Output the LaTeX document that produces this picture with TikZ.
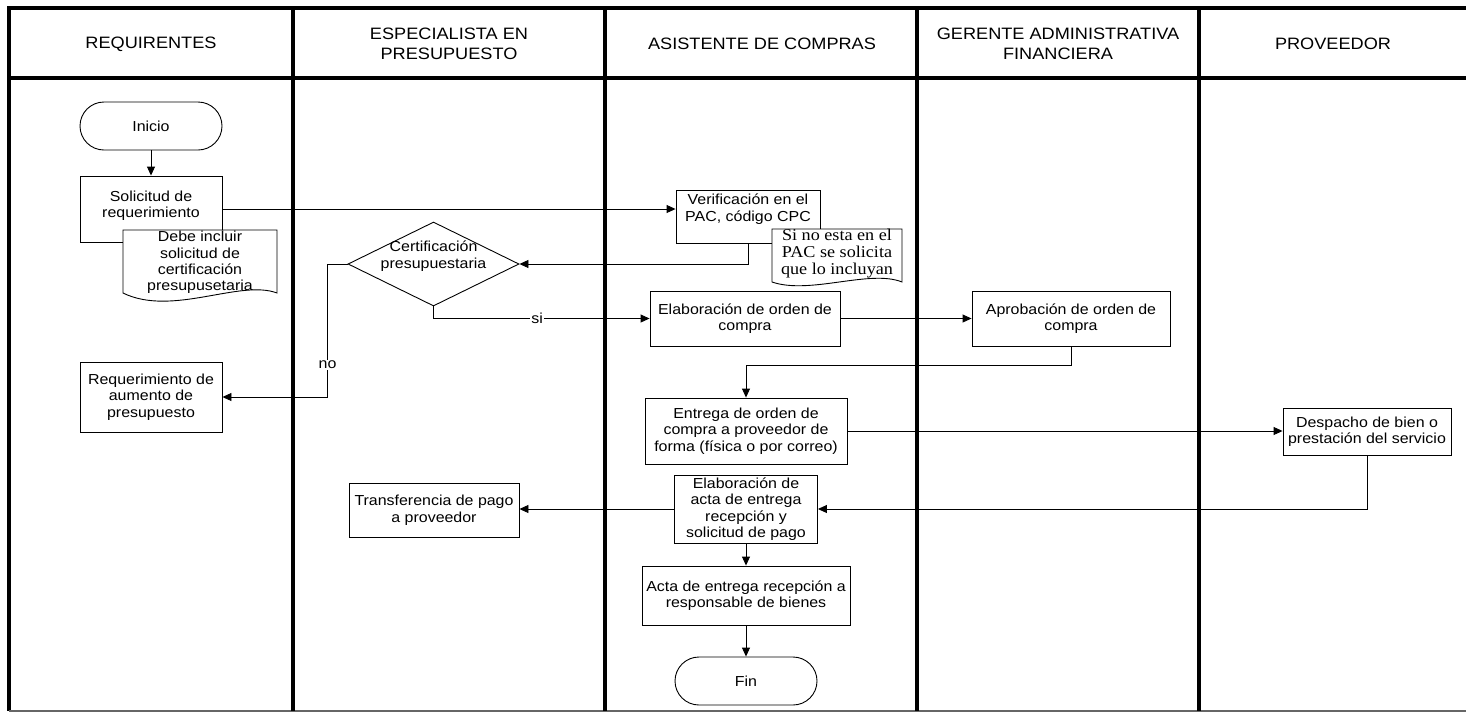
\documentclass[tikz,border=0pt]{standalone}
\usepackage{fontspec}
\setmainfont{Liberation Sans}[FakeStretch=1.1]
\newfontfamily\notefont{Liberation Serif}[FakeStretch=1.1]
\usetikzlibrary{arrows.meta,shapes.geometric,calc}

\begin{document}
\begin{tikzpicture}[x=1pt,y=-1pt,
  every node/.style={inner sep=0pt},
  frame/.style={line width=3.5pt},
  lanesep/.style={line width=4pt},
  head/.style={align=center,font=\fontsize{16.5}{19.5}\selectfont},
  txt/.style={align=center,font=\fontsize{14.5}{16.5}\selectfont},
  box/.style={draw,line width=0.9pt,fill=white},
  term/.style={box,rounded corners=24pt,minimum width=142,minimum height=48,font=\fontsize{14.5}{16.5}\selectfont},
  decision/.style={draw,line width=0.9pt,fill=white,diamond,minimum width=171,minimum height=84},
  doc/.style={draw,line width=0.9pt,fill=white},
  conn/.style={draw,line width=0.9pt,-{Triangle[length=9pt,width=8pt]}},
  lbl/.style={fill=white,inner sep=1pt,font=\fontsize{14.5}{16.5}\selectfont}
]
\useasboundingbox (0,0) rectangle (1466,713);
\fill[white] (0,0) rectangle (1466,713);

% swimlane frame
\draw[frame] (1466,8) -- (9,8) -- (9,711);
\draw[frame] (9,78) -- (1466,78);
\draw[line width=1.5pt,black!60] (9,711) -- (1466,711);
\foreach \x in {293,605,917,1199}
  \draw[lanesep] (\x,8) -- (\x,711);

% lane headers
\node[head] (h1) at (151,44) {REQUIRENTES};
\node[head] (h2) at (449,44) {ESPECIALISTA EN\\PRESUPUESTO};
\node[head] (h3) at (762,44) {ASISTENTE DE COMPRAS};
\node[head] (h4) at (1058,44) {GERENTE ADMINISTRATIVA\\FINANCIERA};
\node[head] (h5) at (1333,44) {PROVEEDOR};

% requirentes
\node[term] (inicio) at (151,126) {Inicio};
\node[box,minimum width=142,minimum height=66] (solic) at (151,209) {};
\node[txt] (solictxt) at (151,205.5) {Solicitud de\\requerimiento};
\draw[doc] (123,230) -- (277,230) -- (277,293)
  .. controls (240,279) and (172,317) .. (123,293) -- cycle;
\node[txt,font=\fontsize{14.5}{16.3}\selectfont] (doc1) at (200,262.5)
  {Debe incluir\\solicitud de\\certificación\\presupusetaria};
\node[box,txt,minimum width=142,minimum height=70] (reqaum) at (151,397)
  {Requerimiento de\\aumento de\\presupuesto};

% especialista en presupuesto
\node[decision] (dec) at (433.5,264) {};
\node[txt] (dectxt) at (433.5,256) {Certificación\\presupuestaria};
\node[box,txt,minimum width=170,minimum height=54] (transf) at (434,510)
  {Transferencia de pago\\a proveedor};

% asistente de compras
\node[box,minimum width=144,minimum height=53] (verif) at (748,216.5) {};
\node[txt] (veriftxt) at (748,209) {Verificación en el\\PAC, código CPC};
\draw[doc] (772,229) -- (902,229) -- (902,282)
  .. controls (870,269) and (810,295) .. (772,282) -- cycle;
\node[align=center,font=\notefont\fontsize{16.5}{17}\selectfont] (doc2) at (837,254)
  {Si no esta en el\\PAC se solicita\\que lo incluyan};
\node[box,txt,minimum width=190,minimum height=55] (elab) at (745,318.5)
  {Elaboración de orden de\\compra};
\node[box,txt,minimum width=202,minimum height=66] (entrega) at (746,431)
  {Entrega de orden de\\compra a proveedor de\\forma (física o por correo)};
\node[box,txt,minimum width=143,minimum height=68] (acta) at (746,509)
  {Elaboración de\\acta de entrega\\recepción y\\solicitud de pago};
\node[box,txt,minimum width=208,minimum height=59] (actaent) at (746,595.5)
  {Acta de entrega recepción a\\responsable de bienes};
\node[term] (fin) at (746,681) {Fin};

% gerente administrativa financiera
\node[box,txt,minimum width=198,minimum height=55] (aprob) at (1071,318.5)
  {Aprobación de orden de\\compra};

% proveedor
\node[box,txt,minimum width=168,minimum height=47] (despacho) at (1367,431.5)
  {Despacho de bien o\\prestación del servicio};

% connectors
\draw[conn] (inicio.south) -- (solic.north);
\draw[conn] (solic.east) -- (solic.east -| verif.west);
\draw[conn] (verif.south) |- (dec.east);
\draw[conn] (dec.south) |- node[lbl,pos=0.74] {si} (elab.west);
\draw[conn] (dec.west) -- ++(-20,0) coordinate (nobend)
  -- (nobend |- reqaum.east) node[lbl,pos=0.76] {no} -- (reqaum.east);
\draw[conn] (elab.east) -- (aprob.west);
\draw[conn] (aprob.south) -- ++(0,19) -| (entrega.north);
\draw[conn] (entrega.east) -- (entrega.east -| despacho.west);
\draw[conn] (despacho.south) |- (acta.east);
\draw[conn] (acta.west) -- (acta.west -| transf.east);
\draw[conn] (acta.south) -- (actaent.north);
\draw[conn] (actaent.south) -- (fin.north);
\end{tikzpicture}
\end{document}
